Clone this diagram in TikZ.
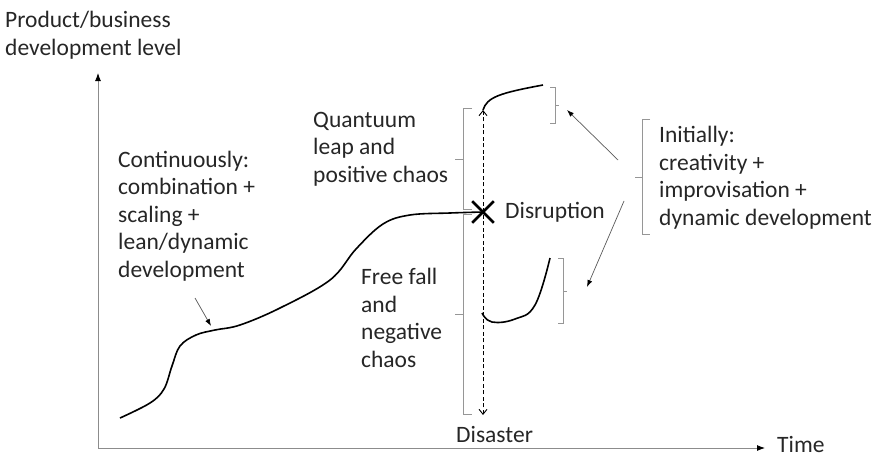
\documentclass[tikz,border=0pt]{standalone}
\usepackage{fontspec}
\setmainfont{Carlito}
\usepackage{tikz}
\usetikzlibrary{arrows.meta,positioning,calc,shapes.misc}
\definecolor{inkG}{HTML}{262626}
\definecolor{axisG}{RGB}{140,140,140}
\definecolor{brakG}{RGB}{150,150,150}
\tikzset{
  lbl/.style={align=left, font=\fontsize{23.5}{27.5}\selectfont, text=inkG, inner sep=0pt},
  axis/.style={-{Latex[length=8pt,width=6pt,color=black]}, line width=0.9pt, draw=axisG},
  brak/.style={line width=0.9pt, draw=brakG},
  pointer/.style={-{Latex[length=7pt,width=5pt,color=black]}, line width=0.7pt, draw=gray!70!black},
  jump/.style={{Straight Barb[length=5pt,width=8pt]}-{Straight Barb[length=5pt,width=8pt]},
               dash pattern=on 4pt off 2.5pt, line width=0.9pt},
  growth/.style={line width=1.6pt, draw=black},
}

\begin{document}
\begin{tikzpicture}[x=1pt,y=-1pt]
    \useasboundingbox (0,0) rectangle (882,458);
    % axes
    \coordinate (O) at (98,448);
    \coordinate (ytop) at (98,73);
    \coordinate (xend) at (765,448);
    \draw[axis](O)--(ytop); \draw[axis](O)--(xend);
    \node[lbl, anchor=base west] (ylab) at (5,55) {Product/business\\development level};
    \node[lbl, anchor=base west] (time) at (777,452.5) {Time};
    % labels (anchored on the last line)
    \node[lbl, anchor=base west] (cont) at (118,277) {Continuously:\\combination +\\scaling +\\lean/dynamic\\development};
    \node[lbl, anchor=base west] (leap) at (313,182) {Quantuum\\leap and\\positive chaos};
    \node[lbl, anchor=base west] (fall) at (361,367) {Free fall\\and\\negative\\chaos};
    \node[lbl, anchor=base west] (init) at (659,225) {Initially:\\creativity +\\improvisation +\\dynamic development};
    % disruption point
    \node[cross out, draw=black, line width=2.6pt, minimum size=19pt, inner sep=0pt] (X) at (483,212) {};
    \node[lbl, anchor=base west] (disr) at (505,218) {Disruption};
    \node[lbl, anchor=base west] (disa) at (456,442) {Disaster};
    % main curve
    \draw[growth] plot[smooth, tension=0.6] coordinates {(120,418) (150,403) (164,389) (172,366) (180,346) (196,335) (215,330) (240,325) (280,308) (330,280) (356,249) (383,224) (410,215) (450,213) (X)};
    % jump up / fall down
    \coordinate (up) at (483,110);
    \coordinate (down) at (483,415);
    \draw[jump](down)--(up);
    \draw[growth] (up) .. controls (487,97) and (500,93) .. (543,85);
    \draw[growth] plot[smooth, tension=0.7] coordinates {(482,313) (492,322) (515,319) (535,305) (550,258)};
    % brackets
    \draw[brak] (550,87)--(555,87)--(555,123)--(550,123) (555,105)--(559,105);
    \draw[brak] (558,258)--(563,258)--(563,323)--(558,323) (563,291)--(567,291);
    \draw[brak] (472,108)--(463,108)--(463,209)--(472,209) (463,159)--(455,159);
    \draw[brak] (472,214)--(463,214)--(463,414)--(472,414) (463,314)--(455,314);
    \draw[brak] (650,119)--(642,119)--(642,234)--(650,234) (642,177)--(635,177);
    % pointers
    \coordinate (p1) at (618,160); \coordinate (t1) at (567,110);
    \coordinate (p2) at (624,201); \coordinate (t2) at (587,287);
    \coordinate (p3) at (195,298); \coordinate (t3) at (211,326);
    \draw[pointer](p1)--(t1); \draw[pointer](p2)--(t2); \draw[pointer](p3)--(t3);
  \end{tikzpicture}
\end{document}
